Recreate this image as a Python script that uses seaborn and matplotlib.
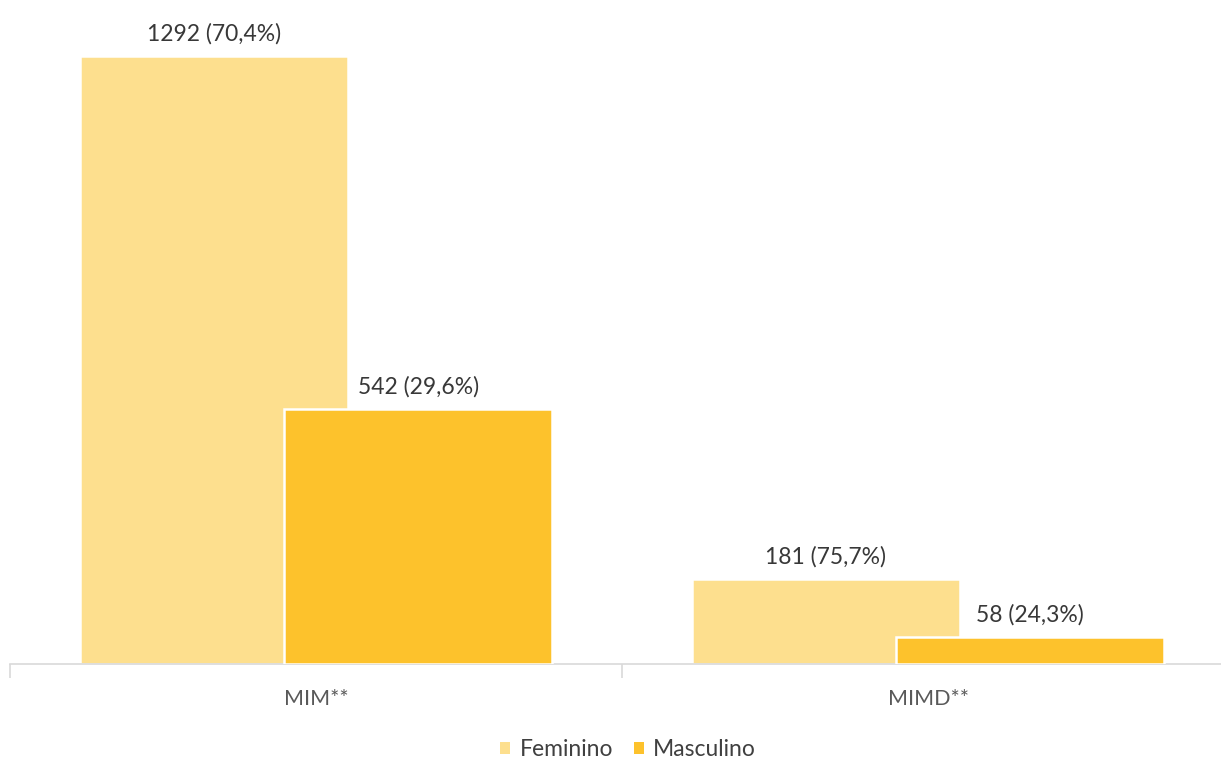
import matplotlib
matplotlib.use("Agg")
import matplotlib.pyplot as plt
import seaborn as sns
import pandas as pd
from matplotlib.patches import Patch

categories = ["MIM**", "MIMD**"]
sexes = ["Feminino", "Masculino"]
feminino = [1292, 181]
masculino = [542, 58]
pct_feminino = ["70,4%", "75,7%"]
pct_masculino = ["29,6%", "24,3%"]
colors = ["#FDDF8E", "#FDC22C"]

df = pd.DataFrame({
    "categoria": categories * 2,
    "sexo": [sexes[0]] * 2 + [sexes[1]] * 2,
    "n": feminino + masculino,
})

sns.set_theme(style="white")
plt.rcParams["font.family"] = ["Lato", "DejaVu Sans"]

fig = plt.figure(figsize=(12.21, 7.63), dpi=100)
ax = fig.add_axes([10 / 1221, 99 / 763, 1 - 10 / 1221, 659 / 763])

sns.barplot(data=df, x="categoria", y="n", hue="sexo", order=categories,
            hue_order=sexes, palette=colors, width=0.668, gap=-0.31,
            edgecolor="white", linewidth=1.8, saturation=1, legend=False, ax=ax)

# Masculino bars sit on top of the Feminino bars they overlap
for container, z in zip(ax.containers, [2, 3]):
    for bar in container:
        bar.set_zorder(z)

labels = [pct_feminino, pct_masculino]
values = [feminino, masculino]
for container, vals, pcts in zip(ax.containers, values, labels):
    ax.bar_label(container, labels=[f"{v} ({p})" for v, p in zip(vals, pcts)],
                 padding=8, fontsize=16.5, color="#383838", zorder=4)

ax.set_ylim(0, 1400)
ax.set_xlim(-0.5, -0.5 + 1211 / 612)
ax.set_xlabel("")
ax.set_ylabel("")
ax.set_yticks([])
for side in ["top", "left", "right"]:
    ax.spines[side].set_visible(False)
ax.spines["bottom"].set_color("#D9D9D9")
ax.spines["bottom"].set_linewidth(1.2)
ax.set_xticks([-0.5, 0.5], minor=True)
ax.tick_params(axis="x", which="minor", length=10, width=1.2, color="#D9D9D9",
               direction="out", bottom=True)
ax.tick_params(axis="x", which="major", length=0, pad=18, labelsize=15.5,
               labelcolor="#595959")

handles = [Patch(facecolor=c, edgecolor="none", label=s) for c, s in zip(colors, sexes)]
fig.legend(handles=handles, loc="center", bbox_to_anchor=(628 / 1221, 1 - 750 / 763),
           ncol=2, frameon=False, fontsize=16.5, handlelength=0.45, handleheight=0.45,
           handletextpad=0.4, columnspacing=0.9, labelcolor="#404040")

fig.savefig("out.png", dpi=100)
